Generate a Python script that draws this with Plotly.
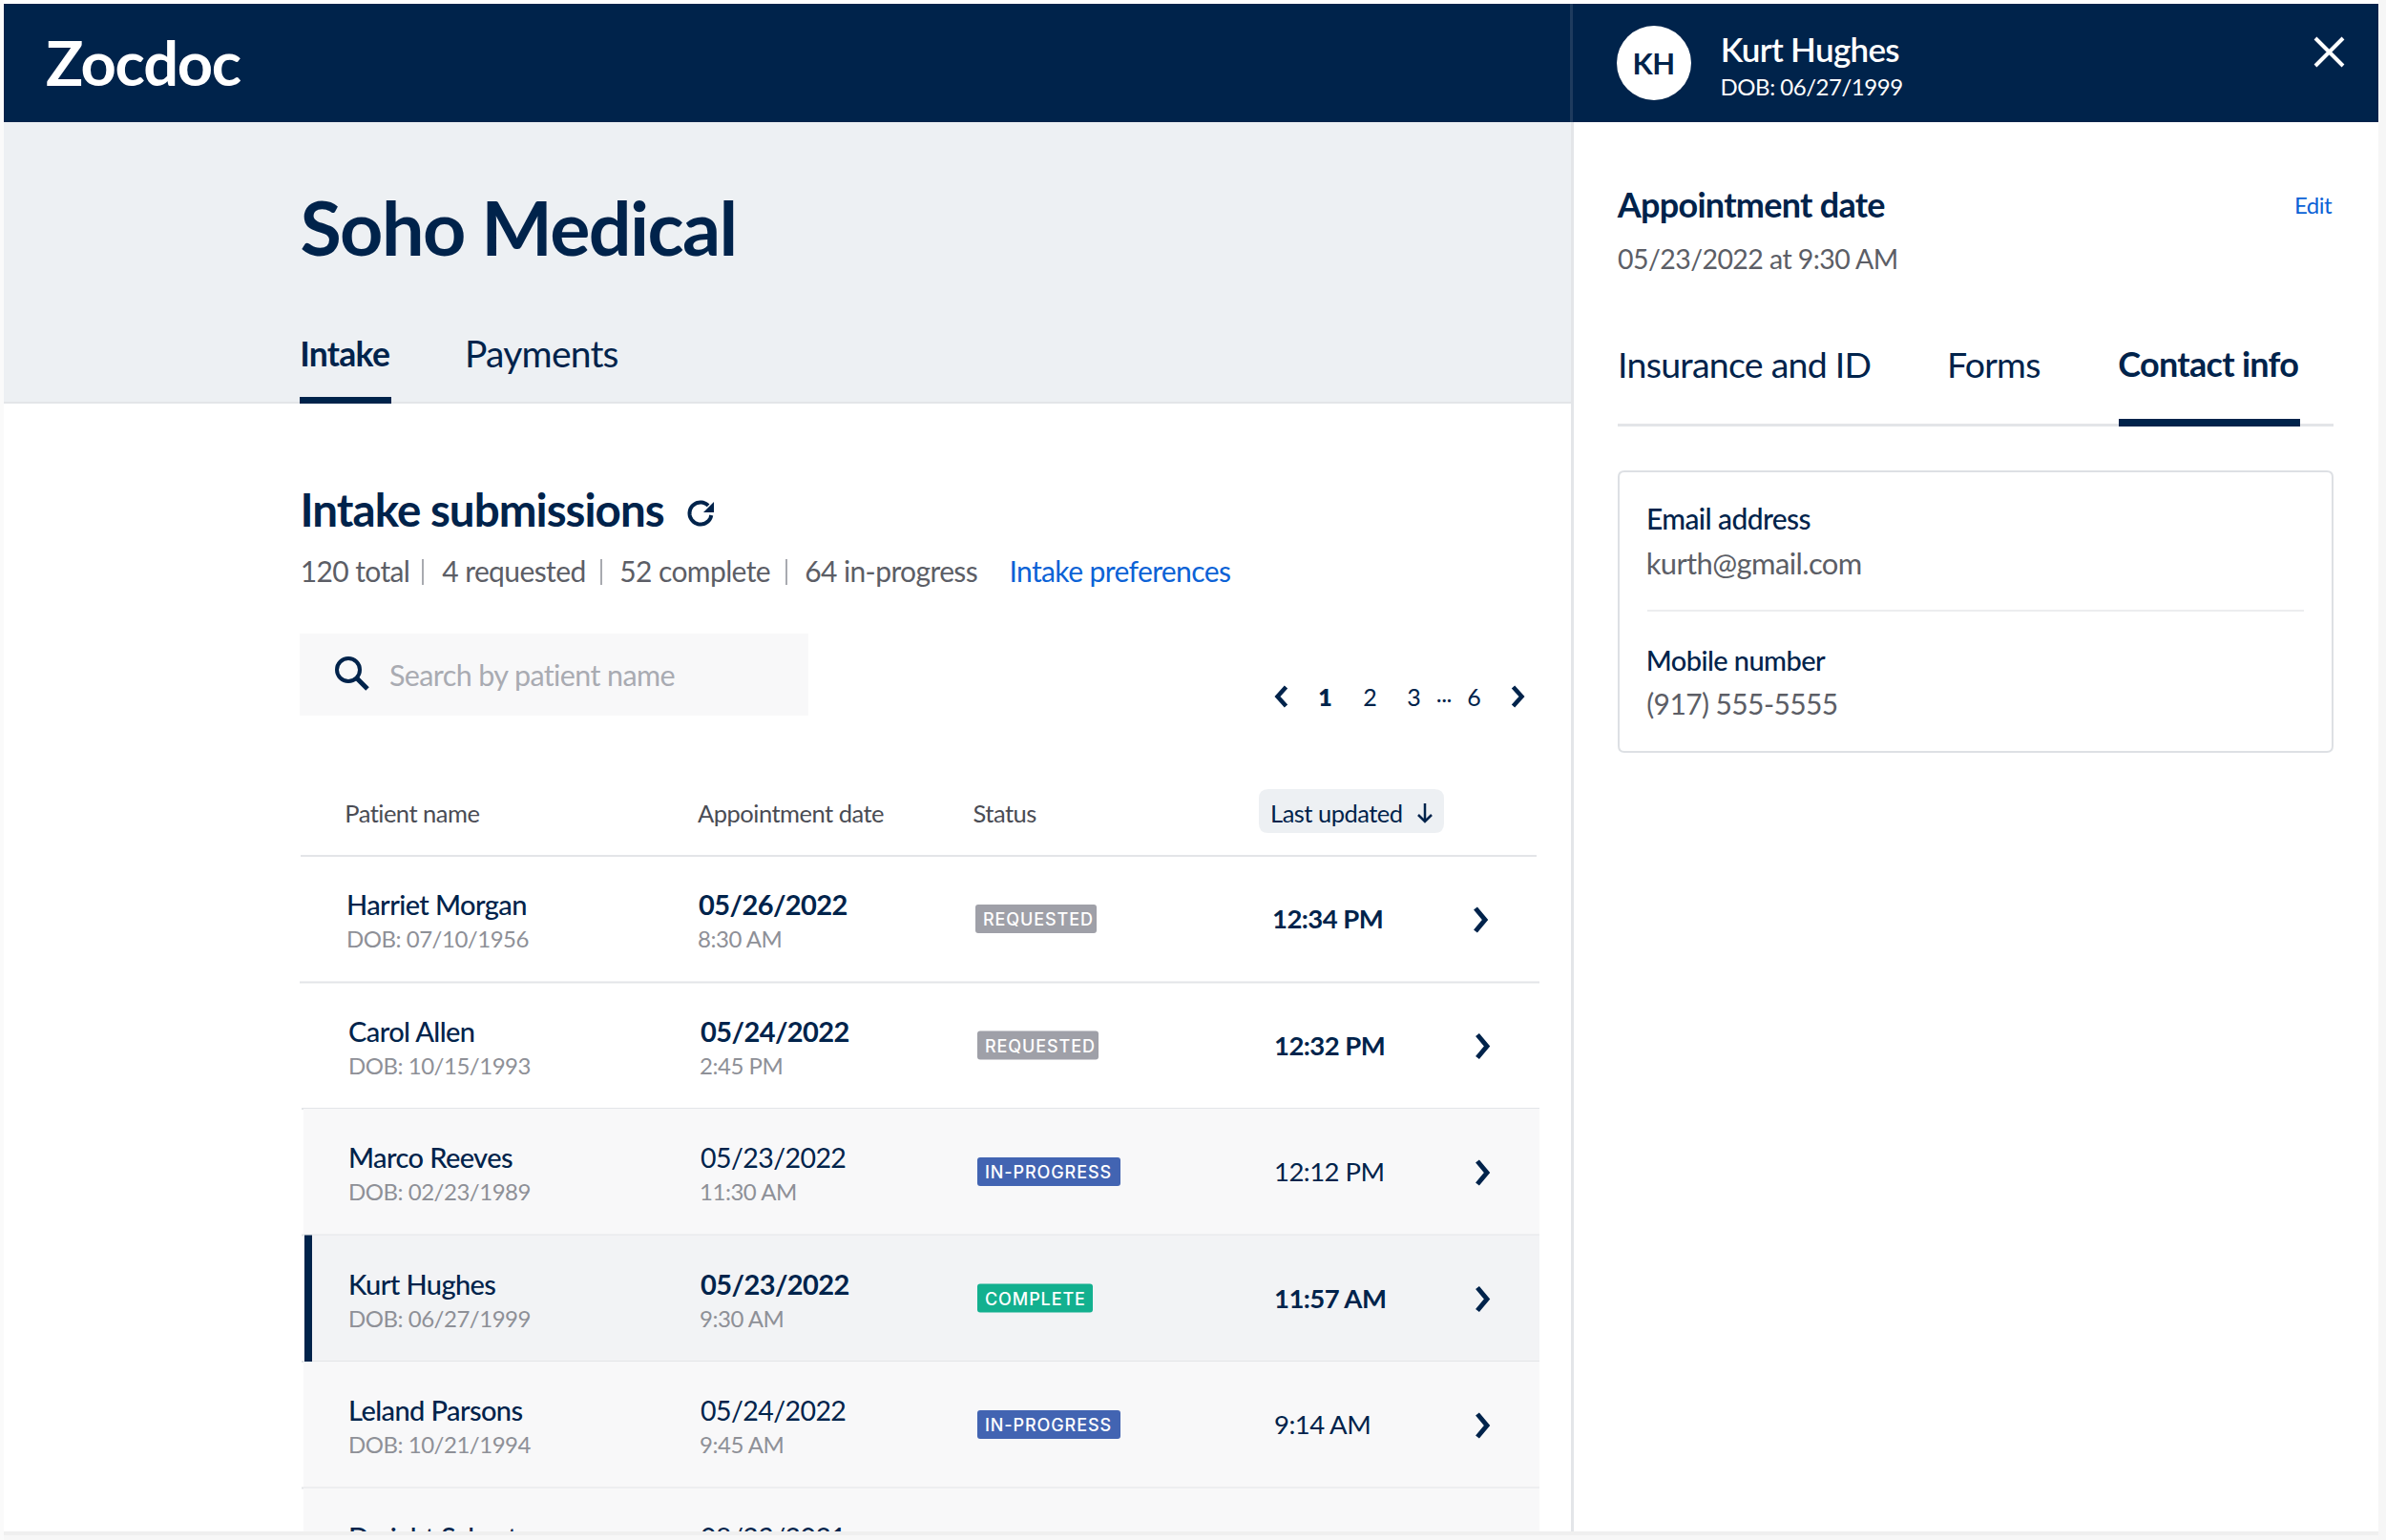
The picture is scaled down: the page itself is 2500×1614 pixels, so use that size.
import numpy as np
import plotly.graph_objects as go

# table rows
names = ["Harriet Morgan", "Carol Allen", "Marco Reeves", "Kurt Hughes", "Leland Parsons", "Dwight Schrute"]
dobs = ["DOB: 07/10/1956", "DOB: 10/15/1993", "DOB: 02/23/1989", "DOB: 06/27/1999", "DOB: 10/21/1994", "DOB: 01/20/1974"]
dates = ["05/26/2022", "05/24/2022", "05/23/2022", "05/23/2022", "05/24/2022", "08/23/2021"]
times = ["8:30 AM", "2:45 PM", "11:30 AM", "9:30 AM", "9:45 AM", "9:00 AM"]
statuses = ["REQUESTED", "REQUESTED", "IN-PROGRESS", "COMPLETE", "IN-PROGRESS", "COMPLETE"]
updated = ["12:34 PM", "12:32 PM", "12:12 PM", "11:57 AM", "9:14 AM", "9:02 AM"]
unread = [True, True, False, True, False, False]

columns = ["Patient name", "Appointment date", "Status"]
stats = ["120 total", "4 requested", "52 complete", "64 in-progress"]
pages = ["1", "2", "3", "...", "6"]
panel_tabs = ["Insurance and ID", "Forms", "Contact info"]

NAVY = "#00234B"
BLUE = "#0B62D6"
GREY_TEXT = "#5C5E66"
GREY_LIGHT = "#8E9097"
LINE = "#E3E5E8"
FONT = "Lato"
badge_colors = {"REQUESTED": "#9FA0A8", "IN-PROGRESS": "#4264B2", "COMPLETE": "#13B08F"}
badge_widths = {"REQUESTED": 127, "IN-PROGRESS": 150, "COMPLETE": 121}

shapes = []
annotations = []


def rect(x0, y0, x1, y1, fill, line=None, width=0, layer="below"):
    shapes.append(dict(type="rect", x0=x0, y0=y0, x1=x1, y1=y1, fillcolor=fill, layer=layer,
                       line=dict(color=line or fill, width=width)))


def stroke(path, color=NAVY, width=4, fill=None, layer="below"):
    shapes.append(dict(type="path", path=path, layer=layer, fillcolor=fill or "rgba(0,0,0,0)",
                       line=dict(color=color, width=width)))


def rounded(x0, y0, x1, y1, r, fill, line=None, width=0):
    p = (f"M{x0+r},{y0} L{x1-r},{y0} Q{x1},{y0} {x1},{y0+r} L{x1},{y1-r} Q{x1},{y1} {x1-r},{y1} "
         f"L{x0+r},{y1} Q{x0},{y1} {x0},{y1-r} L{x0},{y0+r} Q{x0},{y0} {x0+r},{y0} Z")
    stroke(p, color=line or fill, width=width, fill=fill)


def chevron(x, y, w, h, right=True, width=4.5):
    d = w if right else -w
    stroke(f"M{x-d/2},{y-h} L{x+d/2},{y} L{x-d/2},{y+h}", width=width)


def txt(x, y, s, size, color=NAVY, weight=400, anchor="left"):
    # annotations get centred in a box measured before the tracking is applied
    if anchor == "left":
        x = x - 0.01 * size * len(s)
    annotations.append(dict(x=x, y=y, text=s, showarrow=False, xanchor=anchor, yanchor="middle", borderpad=0,
                            font=dict(family=FONT, size=size, color=color, weight=weight)))


# page frame and soft shadow
rect(0, 1605, 2500, 1614, "#F7F7F7")
rect(0, 1605, 2500, 1609, "#EFEFEF")
rect(0, 0, 4, 1614, "#FAFAFA")
rect(2492, 0, 2500, 1614, "#F6F6F6")
rect(4, 4, 2492, 1605, "#FFFFFF")
rect(4, 4, 2492, 128, NAVY)
rect(4, 128, 1646, 422, "#EDF0F3")
rect(4, 421, 1646, 423, LINE)
rect(1645, 4, 1648, 128, "#1E3B5E")
rect(1646, 128, 1649, 1605, "#E3E5E8")

# left header
txt(47, 65, "Zocdoc", 65, "#FFFFFF", 700)
txt(313, 237, "Soho Medical", 79, NAVY, 700)
txt(313, 370, "Intake", 35.5, NAVY, 700)
txt(486, 370, "Payments", 39, NAVY, 400)
rect(314, 416, 410, 423, NAVY)

txt(314, 533, "Intake submissions", 47.5, NAVY, 700)
arc = np.radians(np.linspace(-45, -350, 40))
stroke("M" + " L".join(f"{734 + 11.5*np.cos(a):.1f},{538 + 11.5*np.sin(a):.1f}" for a in arc), width=4)
stroke("M748,526 L748,537 L737,537 Z", fill=NAVY, width=0)

stat_x = [314, 462, 648, 842]
sep_x = [443, 630, 824]
for x, s in zip(stat_x, stats):
    txt(x, 598, s, 30, GREY_TEXT)
for x in sep_x:
    rect(x - 1, 586, x + 1, 613, "#A8AAB0")
txt(1056, 598, "Intake preferences", 30, BLUE)

# search box
rect(314, 664, 847, 750, "#F8F8F9")
shapes.append(dict(type="circle", x0=353, y0=690, x1=377, y1=714, layer="below", line=dict(color=NAVY, width=4)))
stroke("M374,711 L385,722", width=5)
txt(407, 707, "Search by patient name", 30.5, "#A9ABB2")

# pagination
chevron(1343, 730, 9, 10, right=False)
for x, s in zip([1388, 1435, 1481, 1513, 1544], pages):
    txt(x, 730 if s != "..." else 726, s, 25, NAVY, 800 if s == "1" else 400, "center")
chevron(1590, 730, 9, 10)

# table header
for x, s in zip([360, 730, 1019], columns):
    txt(x, 852, s, 25.5, "#4A4C54")
rounded(1319, 827, 1513, 873, 10, "#EDF0F3")
txt(1330, 852, "Last updated", 25.5, NAVY)
stroke("M1493,842 L1493,861 M1486,854 L1493,861 L1500,854", width=2.5)
rect(315, 896, 1610, 898, LINE)

# rows
ROW_TOP = 897
ROW_STEP = 132.5
n_rows = len(names)
xoff = [-2 if i == 0 else 0 for i in range(n_rows)]
fills = [None, None, "#F8F8F9", "#F2F3F5", "#F8F8F9", "#F8F8F9"]
for i in range(n_rows):
    top = ROW_TOP + i * ROW_STEP
    if fills[i]:
        rect(318, top, 1613, min(top + ROW_STEP, 1605), fills[i])
    if i < n_rows - 1:
        rect(316 + xoff[i], top + ROW_STEP - 1, 1613, top + ROW_STEP + 1, LINE)
    if i < n_rows - 1:
        mid = top + 66
        st = statuses[i]
        x0 = 1024 + xoff[i]
        rounded(x0, mid - 15, x0 + badge_widths[st], mid + 15, 3, badge_colors[st])
        chevron(1553 + xoff[i], mid + 1, 10, 12, width=5)
rect(319, ROW_TOP + 3 * ROW_STEP, 327, ROW_TOP + 4 * ROW_STEP, NAVY)


def row_y(dy):
    return [ROW_TOP + i * ROW_STEP + dy for i in range(n_rows)]


def row_x(x):
    return [x + o for o in xoff]


def column(x, y, text, size, color, weight=400, family=FONT):
    return go.Scatter(x=x, y=y, text=text, mode="text", textposition="middle right", hoverinfo="skip",
                      textfont=dict(family=family, size=size, color=color, weight=weight), showlegend=False)


traces = [
    column(row_x(365), row_y(55), names, 29, NAVY, 500),
    column(row_x(365), row_y(90), dobs, 24, GREY_LIGHT),
]
for flag, weight, sz in [(True, 700, 29), (False, 400, 28.5)]:
    idx = [i for i in range(n_rows) if unread[i] == flag]
    traces.append(column([row_x(734)[i] for i in idx], [row_y(55)[i] for i in idx], [dates[i] for i in idx], sz, NAVY, weight))
    idx = [i for i in idx if i < 5]
    traces.append(column([row_x(1335)[i] for i in idx], [row_y(69.5)[i] for i in idx],
                         [updated[i] for i in idx], 27.5, NAVY, weight))
traces.append(column(row_x(733), row_y(90), times, 24, GREY_LIGHT))

# badge labels (last row is cut off at the page edge)
traces.append(column([1032 + o for o in xoff][:5], row_y(68.5)[:5], statuses[:5], 18, "#FFFFFF", 500, "Inter"))

# cover anything below the page bottom
rect(4, 1605, 1640, 1609, "#EFEFEF", layer="above")
rect(4, 1609, 1640, 1614, "#F7F7F7", layer="above")

# right panel
shapes.append(dict(type="circle", x0=1694, y0=27, x1=1772, y1=105, layer="below", fillcolor="#FFFFFF", line=dict(width=0)))
txt(1732, 66, "KH", 31, NAVY, 700, "center")
txt(1802, 51, "Kurt Hughes", 35, "#FFFFFF", 600)
txt(1802, 90, "DOB: 06/27/1999", 24, "#FFFFFF", 400)
stroke("M2426,40 L2455,69 M2455,40 L2426,69", color="#FFFFFF", width=4)

txt(1693, 214, "Appointment date", 36, NAVY, 700)
txt(2403, 214, "Edit", 24, BLUE)
txt(1694, 271, "05/23/2022 at 9:30 AM", 28.5, GREY_TEXT)
for x, s, w, sz in zip([1694, 2039, 2218], panel_tabs, [400, 400, 700], [37.5, 37.5, 36]):
    txt(x, 381, s, sz, NAVY, w)
rect(1695, 444, 2445, 447, LINE)
rect(2220, 439, 2410, 447, NAVY)

rounded(1696, 494, 2444, 788, 6, "#FFFFFF", "#DDE0E4", 2)
txt(1724, 543, "Email address", 30, NAVY, 500)
txt(1724, 590, "kurth@gmail.com", 31, GREY_TEXT)
rect(1726, 639, 2414, 641, "#ECEDEF")
txt(1724, 691, "Mobile number", 29, NAVY, 500)
txt(1724, 737, "(917) 555-5555", 30, GREY_TEXT)

fig = go.Figure(traces)
fig.update_layout(
    width=2500, height=1614, margin=dict(l=0, r=0, t=0, b=0),
    paper_bgcolor="#FFFFFF", plot_bgcolor="#FFFFFF", showlegend=False,
    shapes=shapes, annotations=annotations,
    xaxis=dict(range=[0, 2500], visible=False, fixedrange=True),
    yaxis=dict(range=[1614, 0], visible=False, fixedrange=True),
)
# page margin off, tighter tracking like the original typeface, wide tracking on the status badges
tweak = ("document.body.style.margin='0';var s=document.createElement('style');"
         "s.textContent='svg text{letter-spacing:-0.02em}';document.head.appendChild(s);"
         "document.querySelectorAll('.textpoint text').forEach(function(t){"
         "if(/^[A-Z-]+$/.test(t.textContent))t.style.letterSpacing='0.05em';});")
fig.write_html("out.html", config={"displayModeBar": False}, post_script=tweak)
